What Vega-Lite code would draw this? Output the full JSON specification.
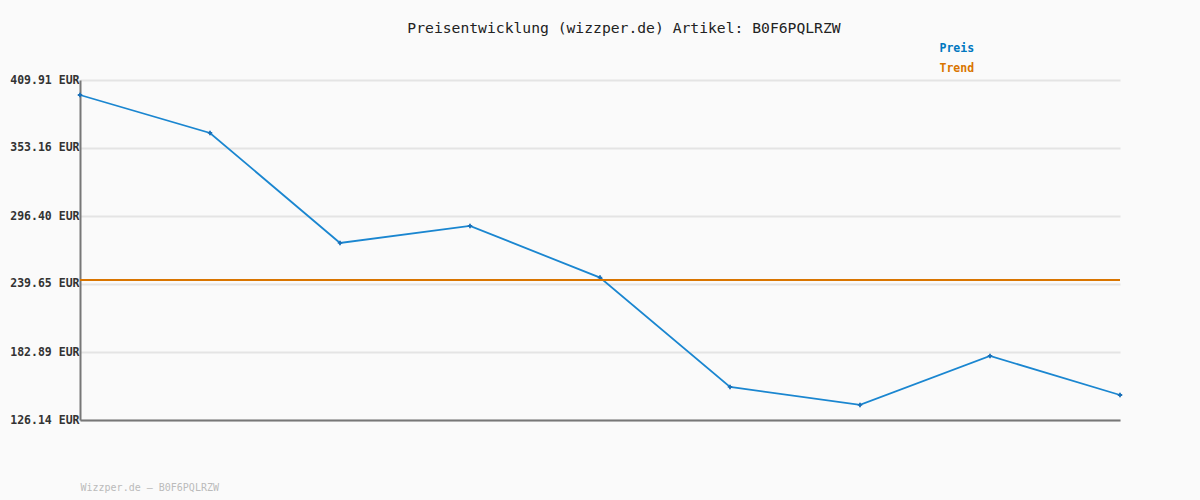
{
  "$schema": "https://vega.github.io/schema/vega-lite/v6.json",
  "width": 1040,
  "height": 340,
  "autosize": {"type": "none"},
  "padding": {"left": 80, "top": 80, "right": 80, "bottom": 80},
  "background": "#fafafa",
  "config": {
    "view": {"stroke": null},
    "font": "DejaVu Sans Mono"
  },
  "title": {
    "text": "Preisentwicklung (wizzper.de) Artikel: B0F6PQLRZW",
    "font": "DejaVu Sans Mono",
    "fontSize": 14.7,
    "fontWeight": "normal",
    "color": "#222222",
    "anchor": "middle",
    "dx": 24,
    "offset": 7
  },
  "datasets": {
    "preis": [
      {"i": 1, "wert": 397.4},
      {"i": 2, "wert": 365.7},
      {"i": 3, "wert": 273.9},
      {"i": 4, "wert": 288.1},
      {"i": 5, "wert": 245.0},
      {"i": 6, "wert": 153.7},
      {"i": 7, "wert": 138.7},
      {"i": 8, "wert": 179.6},
      {"i": 9, "wert": 147.0}
    ],
    "trend": [
      {"wert": 243.0}
    ]
  },
  "layer": [
    {
      "data": {"name": "preis"},
      "mark": {"type": "line", "strokeWidth": 1.8, "clip": false},
      "encoding": {
        "x": {
          "field": "i", "type": "quantitative",
          "scale": {"domain": [1, 9], "nice": false, "zero": false},
          "axis": {
            "grid": false, "labels": false, "ticks": false,
            "domain": true, "domainColor": "#777777", "domainWidth": 2,
            "title": "Wizzper.de – B0F6PQLRZW",
            "titleFont": "DejaVu Sans Mono", "titleFontSize": 10, "titleFontWeight": "normal",
            "titleColor": "#bbbbbb", "titleAnchor": "start", "titleAlign": "left",
            "titleX": 0, "titleY": 70, "titleBaseline": "alphabetic"
          }
        },
        "y": {
          "field": "wert", "type": "quantitative",
          "scale": {"domain": [126.14, 409.91], "nice": false, "zero": false},
          "axis": {
            "values": [126.14, 182.89, 239.65, 296.40, 353.16, 409.91],
            "labelExpr": "format(datum.value, '.2f') + ' EUR'",
            "labelFont": "DejaVu Sans Mono", "labelFontSize": 11.5, "labelFontWeight": "bold",
            "labelColor": "#333333", "labelPadding": 1,
            "ticks": false, "title": null,
            "grid": true, "gridColor": "#e4e4e4", "gridWidth": 2,
            "domain": true, "domainColor": "#777777", "domainWidth": 2
          }
        },
        "color": {
          "datum": "Preis",
          "scale": {"domain": ["Preis", "Trend"], "range": ["#1a86d0", "#d97500"]},
          "legend": {
            "orient": "none", "legendX": 848, "legendY": -37, "title": null,
            "symbolSize": 0, "symbolStrokeWidth": 0, "symbolOpacity": 0,
            "labelFont": "DejaVu Sans Mono", "labelFontSize": 11.5, "labelFontWeight": "bold",
            "rowPadding": 7, "labelOffset": 0,
            "encode": {"labels": {"update": {"fill": {"signal": "datum.value == 'Preis' ? '#0077c0' : '#d97500'"}}}}
          }
        }
      }
    },
    {
      "data": {"name": "preis"},
      "mark": {"type": "point", "shape": "cross", "filled": true, "size": 20, "color": "#1a70b8", "opacity": 1, "clip": false},
      "encoding": {
        "x": {"field": "i", "type": "quantitative"},
        "y": {"field": "wert", "type": "quantitative"}
      }
    },
    {
      "data": {"name": "trend"},
      "mark": {"type": "rule", "strokeWidth": 2},
      "encoding": {
        "y": {"field": "wert", "type": "quantitative"},
        "color": {"datum": "Trend"}
      }
    }
  ]
}
